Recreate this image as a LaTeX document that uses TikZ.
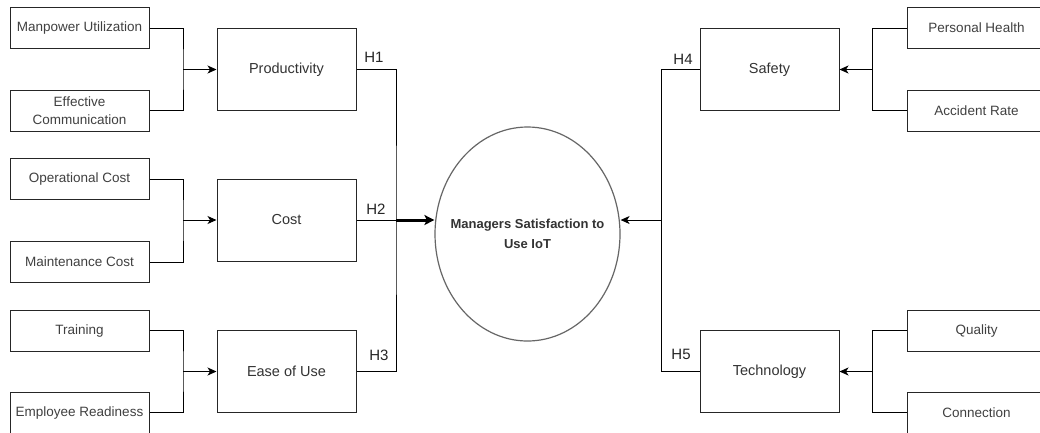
\documentclass[tikz,border=0pt]{standalone}
\usepackage{fontspec}
\setmainfont{Liberation Sans}
\usetikzlibrary{arrows.meta,shapes.geometric}
\begin{document}
\begin{tikzpicture}[x=1pt,y=-1pt,
  ind/.style={draw=black!85,line width=1pt,minimum width=139pt,minimum height=41pt,inner sep=0pt,align=center,text=black!75,font=\fontsize{13.5}{18}\selectfont},
  con/.style={draw=black!85,line width=1pt,minimum width=139pt,minimum height=82pt,inner sep=0pt,text=black!80,font=\fontsize{14.5}{17}\selectfont},
  wire/.style={line width=1pt,black},
  arr/.style={wire,-{Stealth[length=9pt,width=8pt,inset=2.5pt]}},
  bigarr/.style={line width=3pt,black,-{Stealth[length=10pt,width=10pt,inset=2.5pt]}},
  hl/.style={text=black!85,font=\fontsize{15}{18}\selectfont,inner sep=0pt}]
\useasboundingbox (0,0) rectangle (1040,432);
\clip (0,0) rectangle (1040,432);
\fill[white] (0,0) rectangle (1040,432);

% left indicators
\node[ind] (mu) at (79.5,28) {Manpower Utilization};
\node[ind] (ec) at (79.5,110.5) {Effective\\Communication};
\node[ind] (oc) at (79.5,179) {Operational Cost};
\node[ind] (mc) at (79.5,262) {Maintenance Cost};
\node[ind] (tr) at (79.5,330.5) {Training};
\node[ind] (er) at (79.5,412.5) {Employee Readiness};

% left constructs
\node[con] (prod) at (286.5,69.5) {Productivity};
\node[con] (cost) at (286.5,220) {Cost};
\node[con] (ease) at (286.5,371.5) {Ease of Use};

% right constructs
\node[con] (safe) at (769.5,69.5) {Safety};
\node[con] (tech) at (769.5,371.5) {Technology};

% right indicators
\node[ind] (ph) at (976.5,28) {Personal Health};
\node[ind] (ar) at (976.5,110.5) {Accident Rate};
\node[ind] (qu) at (976.5,330.5) {Quality};
\node[ind] (cn) at (976.5,412.5) {Connection};

% central ellipse
\node[ellipse,draw=black!60,line width=1.2pt,minimum width=185pt,minimum height=214pt,inner sep=0pt] (ell) at (527.5,234) {};
\node[align=center,inner sep=0pt,text=black!80,font=\bfseries\fontsize{13}{20}\selectfont] (ellt) at (ell.center) {Managers Satisfaction to\\Use IoT};

% junctions
\coordinate (j1) at (183,69.5);
\coordinate (j2) at (183,220);
\coordinate (j3) at (183,371.5);
\coordinate (j4) at (872,69.5);
\coordinate (j5) at (872,371.5);
\coordinate (bl) at (396,220);
\coordinate (br) at (661,220);

\draw[wire] (mu.east) -| (j1) |- (ec.east);
\draw[arr] (j1) -- (prod.west);
\draw[wire] (oc.east) -| (j2) |- (mc.east);
\draw[arr] (j2) -- (cost.west);
\draw[wire] (tr.east) -| (j3) |- (er.east);
\draw[arr] (j3) -- (ease.west);

\draw[wire] (ph.west) -| (j4) |- (ar.west);
\draw[arr] (j4) -- (safe.east);
\draw[wire] (qu.west) -| (j5) |- (cn.west);
\draw[arr] (j5) -- (tech.east);

% buses
\draw[wire] (prod.east) -| (bl) |- (ease.east);
\draw[wire] (cost.east) -- (bl);
\draw[bigarr] (bl) -- (bl -| ell.west);
\draw[wire] (safe.west) -| (br) |- (tech.west);
\draw[arr] (br) -- (br -| ell.east);

% hypothesis labels
\node[hl] (h1) at (374,57) {H1};
\node[hl] (h2) at (376,209) {H2};
\node[hl] (h3) at (379,355) {H3};
\node[hl] (h4) at (683,59) {H4};
\node[hl] (h5) at (681,354) {H5};
\end{tikzpicture}
\end{document}
